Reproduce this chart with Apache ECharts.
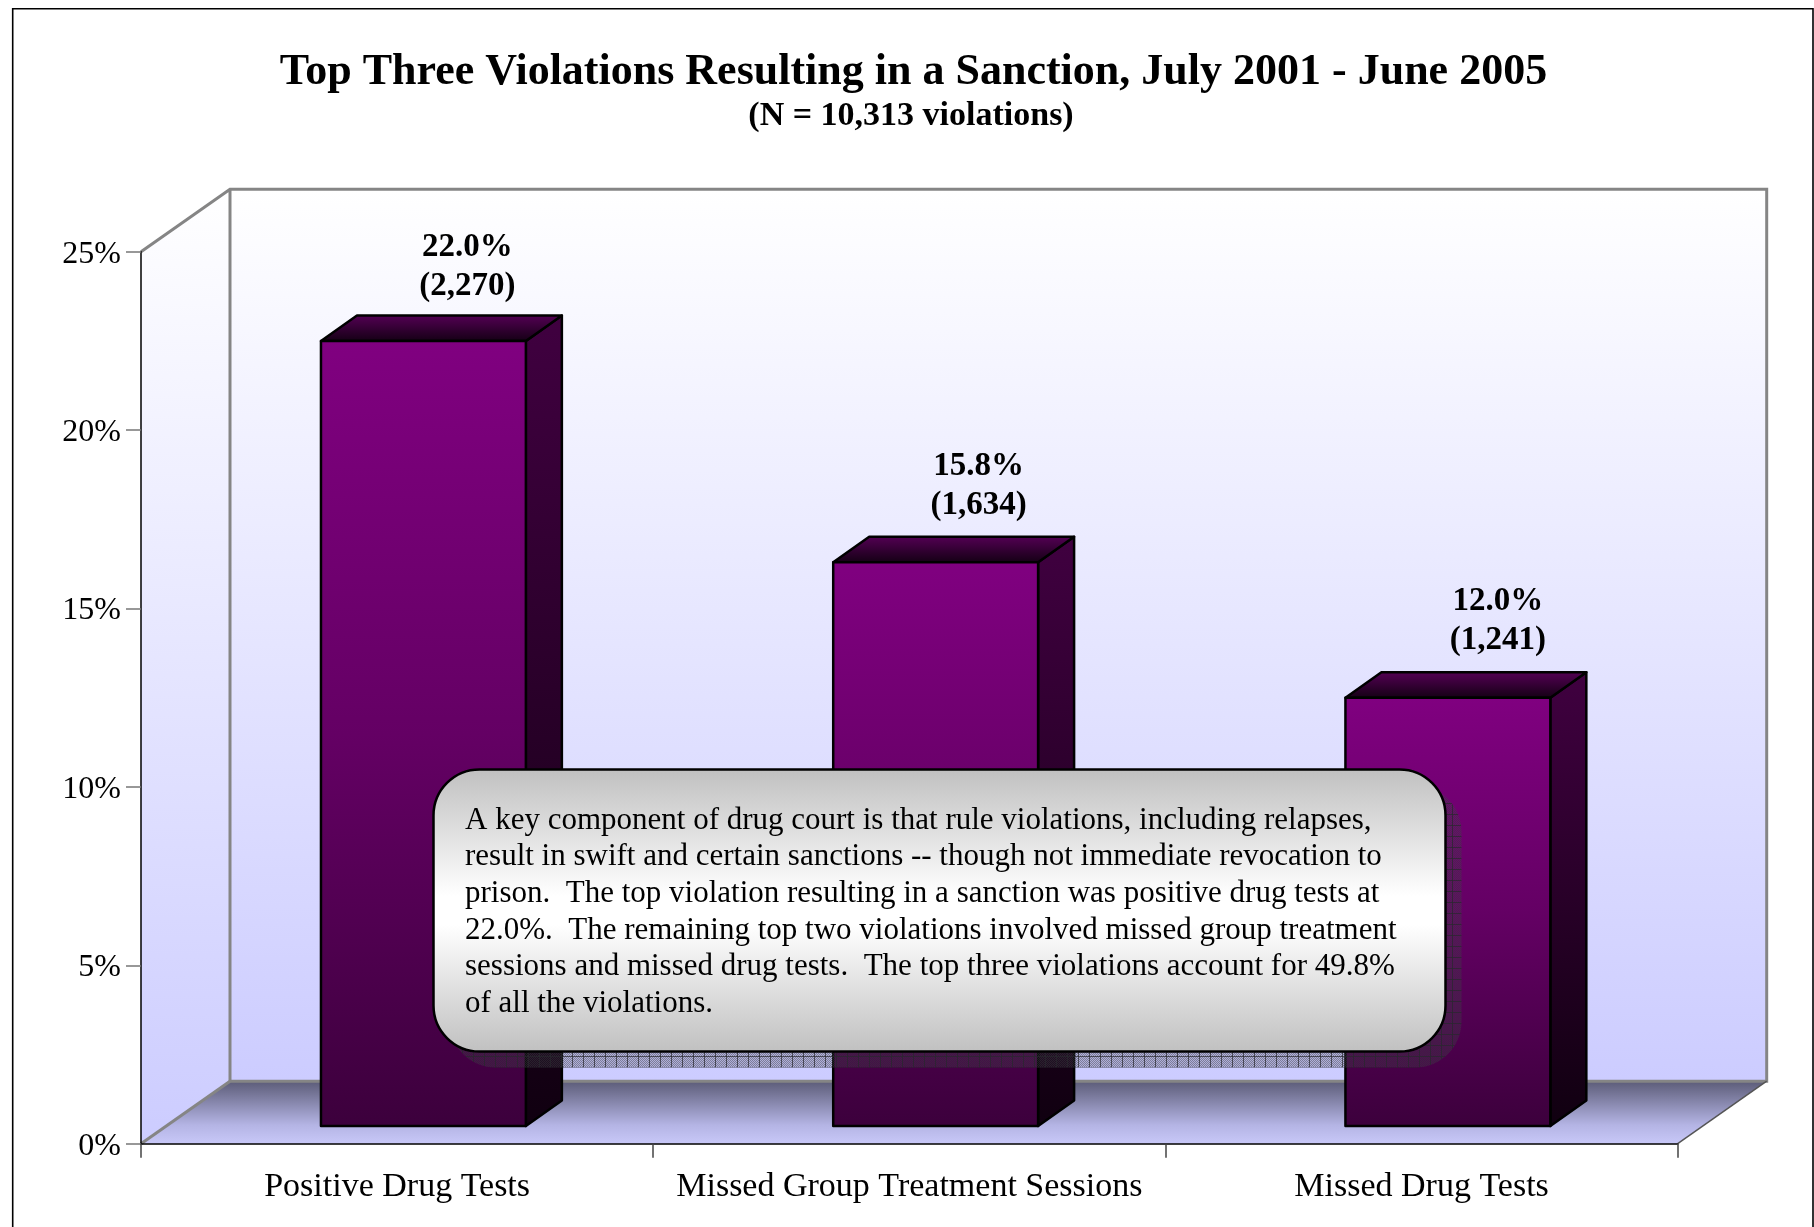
<!DOCTYPE html>
<html>
<head>
<meta charset="utf-8">
<style>html,body{margin:0;padding:0;background:#fff}#c{width:1814px;height:1227px}</style>
<script src="https://cdn.jsdelivr.net/npm/echarts@6/dist/echarts.min.js"></script>
</head>
<body>
<div id="c"></div>
<script>
const categories = ['Positive Drug Tests', 'Missed Group Treatment Sessions', 'Missed Drug Tests'];
const percents = [22.0, 15.8, 12.0];
const counts = ['2,270', '1,634', '1,241'];
const titleText = 'Top Three Violations Resulting in a Sanction, July 2001 - June 2005';
const subtitleText = '(N = 10,313 violations)';
const calloutLines = [
  'A key component of drug court is that rule violations, including relapses,',
  'result in swift and certain sanctions -- though not immediate revocation to',
  'prison.  The top violation resulting in a sanction was positive drug tests at',
  '22.0%.  The remaining top two violations involved missed group treatment',
  'sessions and missed drug tests.  The top three violations account for 49.8%',
  'of all the violations.'
];

const FONT = '"Liberation Serif","Times New Roman",serif';
const DEPTH_X = 89, DEPTH_Y = -62.5;
const BAR_OFF_X = 26.3, BAR_OFF_Y = -17.7, BAR_DX = 36, BAR_DY = -25.5;
const LABEL_DX = [44, 43, 50];
const LABEL_DY = [3, 1, 1];

function vgrad(stops) {
  return new echarts.graphic.LinearGradient(0, 0, 0, 1, stops.map(s => ({offset: s[0], color: s[1]})));
}

function hatchPattern() {
  const cv = document.createElement('canvas');
  cv.width = 11; cv.height = 11;
  const g = cv.getContext('2d');
  for (let y = 0; y < 11; y++) for (let x = 0; x < 11; x++) {
    g.fillStyle = (x + y) % 2 === 0 ? 'rgba(60,60,65,0.55)' : 'rgba(70,70,80,0.22)';
    g.fillRect(x, y, 1, 1);
  }
  g.fillStyle = 'rgba(40,40,45,0.7)';
  g.fillRect(0, 0, 11, 1);
  g.fillRect(0, 0, 1, 11);
  return {image: cv, repeat: 'repeat'};
}

function renderFrame(params, api) {
  const half = api.size([1, 0])[0] / 2;
  const o = api.coord([0, 0]), t = api.coord([0, 25]), e = api.coord([2, 0]);
  const x0 = o[0] - half, x1 = e[0] + half, yb = o[1], yt = t[1];
  const dx = DEPTH_X, dy = DEPTH_Y;
  const wall = vgrad([[0, '#ffffff'], [1, '#ccccff']]);
  const gray = {stroke: '#858585', lineWidth: 3, fill: null};
  return {type: 'group', children: [
    {type: 'polygon', shape: {points: [[x0, yt], [x0 + dx, yt + dy], [x0 + dx, yb + dy], [x0, yb]]}, style: {fill: wall}},
    {type: 'rect', shape: {x: x0 + dx, y: yt + dy, width: x1 - x0, height: yb - yt}, style: {fill: wall}},
    {type: 'polygon', shape: {points: [[x0, yb], [x0 + dx, yb + dy], [x1 + dx, yb + dy], [x1, yb]]},
      style: {fill: vgrad([[0, '#5c5c78'], [0.7, '#b4b4e4'], [1, '#c8c8f8']])}},
    {type: 'polyline', shape: {points: [[x0, yt], [x0 + dx, yt + dy], [x1 + dx, yt + dy], [x1 + dx, yb + dy], [x0 + dx, yb + dy], [x0 + dx, yt + dy]]}, style: gray},
    {type: 'line', shape: {x1: x0, y1: yb, x2: x0 + dx, y2: yb + dy}, style: gray},
    {type: 'line', shape: {x1: x1, y1: yb, x2: x1 + dx, y2: yb + dy}, style: {stroke: '#555', lineWidth: 1.5}}
  ]};
}

function renderBar(params, api) {
  const i = api.value(0), v = api.value(1);
  const w = api.size([1, 0])[0] * 0.4;
  const top = api.coord([i, v]), base = api.coord([i, 0]);
  const l = top[0] - w / 2 + BAR_OFF_X, r = l + w;
  const t = top[1] + BAR_OFF_Y, b = base[1] + BAR_OFF_Y;
  const ink = {stroke: '#000', lineWidth: 2.5, lineJoin: 'round'};
  const cx = (l + r) / 2 + LABEL_DX[i];
  const ly = t + LABEL_DY[i];
  return {type: 'group', children: [
    {type: 'polygon', shape: {points: [[r, t], [r + BAR_DX, t + BAR_DY], [r + BAR_DX, b + BAR_DY], [r, b]]},
      style: Object.assign({fill: vgrad([[0, '#400040'], [1, '#100010']])}, ink)},
    {type: 'polygon', shape: {points: [[l, t], [l + BAR_DX, t + BAR_DY], [r + BAR_DX, t + BAR_DY], [r, t]]},
      style: Object.assign({fill: vgrad([[0, '#560056'], [1, '#120012']])}, ink)},
    {type: 'rect', shape: {x: l, y: t, width: w, height: b - t},
      style: Object.assign({fill: vgrad([[0, '#800080'], [0.5, '#640064'], [1, '#3c003c']])}, ink)},
    {type: 'text', x: cx, y: ly - 97, style: {text: percents[i].toFixed(1) + '%', font: 'bold 33px ' + FONT, fill: '#000', textAlign: 'center', textVerticalAlign: 'middle'}},
    {type: 'text', x: cx, y: ly - 58, style: {text: '(' + counts[i] + ')', font: 'bold 33px ' + FONT, fill: '#000', textAlign: 'center', textVerticalAlign: 'middle'}}
  ]};
}

const chart = echarts.init(document.getElementById('c'), null, {renderer: 'canvas'});
const CALL = {x: 433.5, y: 769.5, w: 1012, h: 282, r: 46};
chart.setOption({
  animation: false,
  backgroundColor: '#fff',
  title: [
    {text: titleText, left: 908.5, top: 46, textAlign: 'center', textStyle: {fontFamily: FONT, fontWeight: 'bold', fontSize: 44, color: '#000'}},
    {text: subtitleText, left: 906, top: 94, textAlign: 'center', textStyle: {fontFamily: FONT, fontWeight: 'bold', fontSize: 34, color: '#000'}}
  ],
  grid: {left: 141, top: 251.7, width: 1536.7, height: 892},
  xAxis: {
    type: 'category', data: categories, z: 10,
    axisLine: {lineStyle: {color: '#000', width: 1.5}},
    axisTick: {show: true, length: 14, lineStyle: {color: '#444', width: 1.5}},
    axisLabel: {interval: 0, margin: 26, fontFamily: FONT, fontSize: 34, color: '#000'}
  },
  yAxis: {
    type: 'value', min: 0, max: 25, interval: 5, z: 10,
    splitLine: {show: false},
    axisLine: {show: true, lineStyle: {color: '#000', width: 1.5}},
    axisTick: {show: true, length: 15, lineStyle: {color: '#777', width: 1.5}},
    axisLabel: {margin: 20, formatter: v => '{t|' + v + '%}',
      rich: {t: {fontFamily: FONT, fontSize: 32, color: '#000', padding: [5, 0, 0, 0]}}}
  },
  series: [
    {type: 'custom', silent: true, clip: false, z: 1, renderItem: renderFrame, data: [[0, 0]], encode: {x: 0, y: 1}},
    {type: 'custom', silent: true, clip: false, z: 2, renderItem: renderBar, encode: {x: 0, y: 1},
      data: percents.map((p, i) => [i, p])}
  ],
  graphic: {elements: [
    {type: 'polyline', z: 0, silent: true, shape: {points: [[12.7, 1240], [12.7, 8.7], [1813, 8.7], [1813, 1240]]}, style: {stroke: '#000', lineWidth: 1.6, fill: null}},
    {type: 'rect', z: 20, silent: true, shape: {x: CALL.x + 16, y: CALL.y + 16, width: CALL.w, height: CALL.h, r: CALL.r}, style: {fill: hatchPattern()}},
    {type: 'rect', z: 21, silent: true, shape: {x: CALL.x, y: CALL.y, width: CALL.w, height: CALL.h, r: CALL.r},
      style: {fill: vgrad([[0, '#c0c0c0'], [0.45, '#ffffff'], [0.55, '#ffffff'], [1, '#c0c0c0']]), stroke: '#000', lineWidth: 2.5}},
    {type: 'group', z: 22, silent: true, children: calloutLines.map((s, i) => ({
      type: 'text', x: 465, y: 820.5 + i * 36.7, z: 22, silent: true,
      style: {text: s, font: '31px ' + FONT, fill: '#000', textAlign: 'left', textVerticalAlign: 'middle'}
    }))}
  ]}
});
</script>
</body>
</html>
